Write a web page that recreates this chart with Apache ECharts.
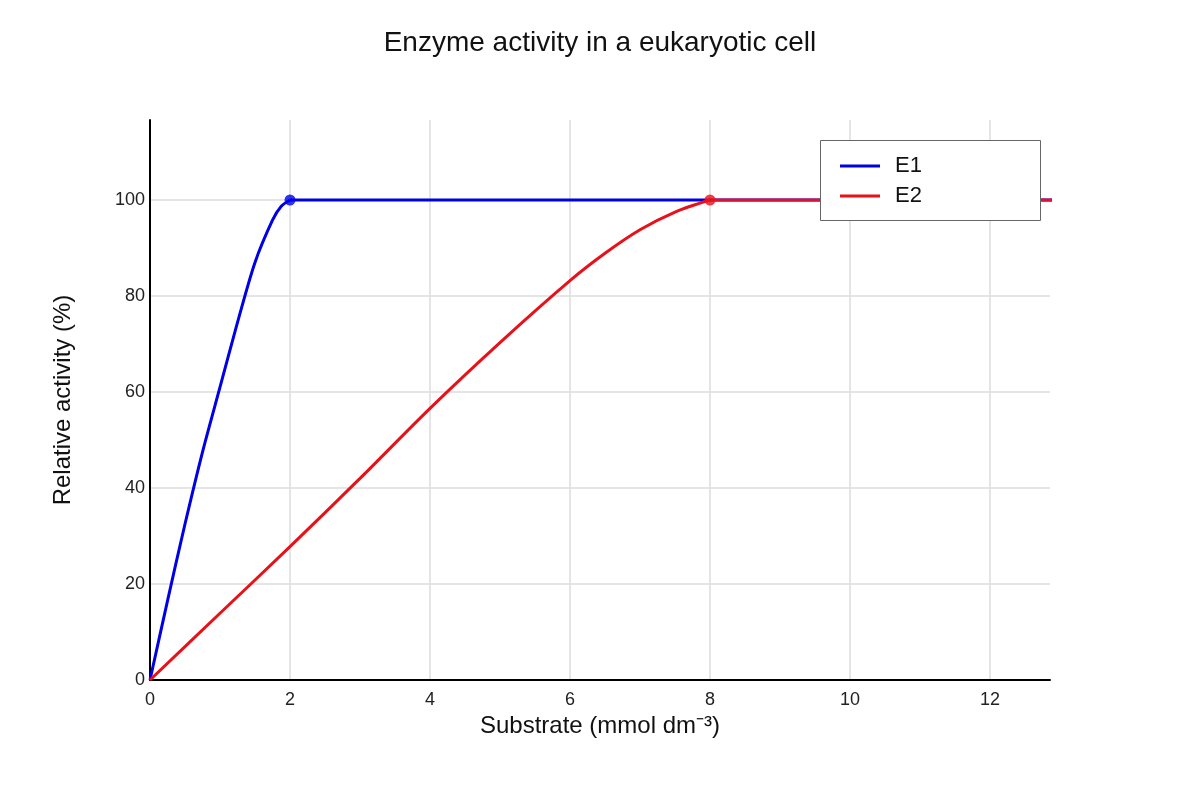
<!DOCTYPE html>
<html>
<head>
<meta charset="utf-8">
<title>Enzyme activity in a eukaryotic cell</title>
<script src="https://cdn.jsdelivr.net/npm/echarts@6/dist/echarts.min.js"></script>
<style>
  html, body { margin: 0; padding: 0; background: #fff; }
  #chart { width: 1200px; height: 800px; }
</style>
</head>
<body>
<div id="chart"></div>
<script>
// values
const e1Substrate = [0, 0.25, 0.5, 0.75, 1, 1.25, 1.5, 1.75, 1.875, 2];
const e1Activity  = [0, 16.5, 32.5, 47.5, 61, 74.5, 87, 95.8, 98.7, 100];
const e2Substrate = [0, 1, 2, 3, 4, 5, 6, 6.5, 7, 7.5, 8];
const e2Activity  = [0, 13.9, 27.8, 42, 56.6, 70.3, 83.2, 88.9, 93.8, 97.5, 100];
// saturation points and plateau end
const e1Saturation = [2, 100];
const e2Saturation = [8, 100];
const plateauEnd = 13;

const xTicks = [0, 2, 4, 6, 8, 10, 12];
const yTicks = [0, 20, 40, 60, 80, 100];

const blue = '#0000e6';
const red = '#e8111a';
const font = 'Liberation Sans, Arial, sans-serif';

function pairs(xs, ys) {
  return xs.map((x, i) => [x, ys[i]]);
}

const chart = echarts.init(document.getElementById('chart'));

chart.setOption({
  backgroundColor: '#fff',
  animation: false,
  textStyle: { fontFamily: font },
  title: {
    text: 'Enzyme activity in a eukaryotic cell',
    left: 'center',
    top: 24,
    textStyle: { fontSize: 28, fontWeight: 'normal', color: '#111', fontFamily: font }
  },
  grid: { left: 150, right: 150, top: 120, bottom: 120, containLabel: false },
  graphic: [{
    type: 'rect',
    z: 50,
    shape: { x: 820.5, y: 140.5, width: 220, height: 80 },
    style: { fill: '#fff', stroke: '#666', lineWidth: 1 }
  }],
  legend: {
    data: ['E1', 'E2'],
    orient: 'vertical',
    left: 840,
    top: 155,
    z: 60,
    padding: 0,
    itemGap: 8,
    itemWidth: 40,
    itemHeight: 3,
    icon: 'rect',
    textStyle: { fontSize: 22, color: '#111', padding: [0, 0, 0, 10], lineHeight: 20 }
  },
  xAxis: {
    type: 'value',
    min: 0,
    max: 12.857,
    interval: 2,
    name: 'Substrate (mmol dm\u207B\u00B3)',
    nameLocation: 'middle',
    nameGap: 30,
    nameTextStyle: { fontSize: 24, color: '#111' },
    axisLine: { show: true, lineStyle: { color: '#000', width: 2 } },
    axisTick: { show: false },
    axisLabel: {
      fontSize: 18, color: '#222', margin: 11,
      showMaxLabel: false,
      formatter: v => xTicks.includes(v) ? String(v) : ''
    },
    splitLine: { show: true, showMinLine: false, showMaxLine: false, lineStyle: { color: '#dddddd', width: 1.5 } }
  },
  yAxis: {
    type: 'value',
    min: 0,
    max: 116.67,
    interval: 20,
    name: 'Relative activity (%)',
    nameLocation: 'middle',
    nameGap: 75,
    nameTextStyle: { fontSize: 24, color: '#111' },
    axisLine: { show: true, lineStyle: { color: '#000', width: 2 } },
    axisTick: { show: false },
    axisLabel: {
      fontSize: 18, color: '#222', margin: 5,
      showMaxLabel: false,
      formatter: v => yTicks.includes(v) ? String(v) : ''
    },
    splitLine: { show: true, showMinLine: false, showMaxLine: false, lineStyle: { color: '#dddddd', width: 1.5 } }
  },
  series: [
    {
      name: 'E1', type: 'line', z: 3,
      data: pairs(e1Substrate, e1Activity),
      smooth: 0.3, symbol: 'none',
      lineStyle: { color: blue, width: 3 }, itemStyle: { color: blue }
    },
    {
      name: 'E1', type: 'line', z: 3,
      data: [e1Saturation, [plateauEnd, e1Saturation[1]]],
      symbol: 'none',
      lineStyle: { color: blue, width: 3 }, itemStyle: { color: blue }
    },
    {
      name: 'E1', type: 'scatter', z: 4,
      data: [e1Saturation], symbolSize: 11,
      itemStyle: { color: blue }
    },
    {
      name: 'E2', type: 'line', z: 5,
      data: pairs(e2Substrate, e2Activity),
      smooth: 0.3, symbol: 'none',
      lineStyle: { color: red, width: 3 }, itemStyle: { color: red }
    },
    {
      name: 'E2', type: 'line', z: 5,
      data: [e2Saturation, [plateauEnd, e2Saturation[1]]],
      symbol: 'none',
      lineStyle: { color: '#dc1430', width: 3 }, itemStyle: { color: red }
    },
    {
      name: 'E2', type: 'scatter', z: 6,
      data: [e2Saturation], symbolSize: 11,
      itemStyle: { color: red }
    }
  ]
});

window.onresize = function () {
  chart.resize();
};
</script>
</body>
</html>
